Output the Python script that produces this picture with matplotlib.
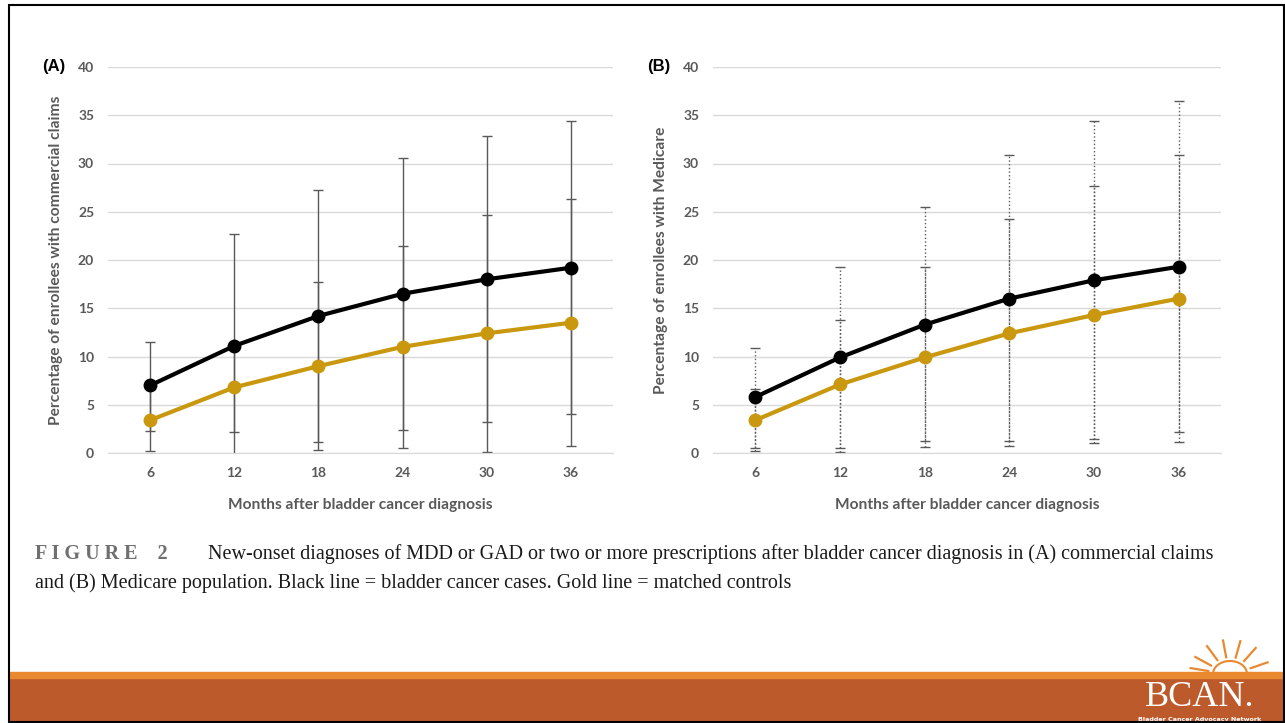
import numpy as np
import matplotlib.pyplot as plt
from matplotlib.patches import Rectangle, Arc

# dados
meses = [6, 12, 18, 24, 30, 36]

# (A) comercial
a_casos = [7.0, 11.1, 14.2, 16.5, 18.0, 19.2]
a_casos_lo = [2.3, -0.5, 1.1, 2.4, 3.2, 4.0]
a_casos_hi = [11.5, 22.7, 27.3, 30.6, 32.8, 34.4]
a_ctrl = [3.4, 6.8, 9.0, 11.0, 12.4, 13.5]
a_ctrl_lo = [0.2, 2.2, 0.3, 0.5, 0.1, 0.7]
a_ctrl_hi = [6.6, 11.4, 17.7, 21.5, 24.7, 26.3]

# (B) Medicare
b_casos = [5.8, 9.9, 13.3, 16.0, 17.9, 19.3]
b_casos_lo = [0.5, 0.5, 1.2, 1.2, 1.5, 2.2]
b_casos_hi = [10.9, 19.3, 25.5, 30.9, 34.4, 36.5]
b_ctrl = [3.4, 7.1, 9.9, 12.4, 14.3, 16.0]
b_ctrl_lo = [0.2, 0.1, 0.6, 0.7, 1.0, 1.1]
b_ctrl_hi = [6.6, 13.8, 19.3, 24.2, 27.7, 30.9]

yticks = [0, 5, 10, 15, 20, 25, 30, 35, 40]

PRETO = '#000000'
OURO = '#C9980F'
CINZA = '#595959'
GRADE = '#D9D9D9'
FONTE = 'Lato'

fig = plt.figure(figsize=(12.85, 7.23), dpi=100)
W, H = 1285, 723


def painel(rect, letra, ylabel, casos, c_lo, c_hi, ctrl, k_lo, k_hi, estilo):
    ax = fig.add_axes(rect)
    for y, lo, hi in [(casos, c_lo, c_hi), (ctrl, k_lo, k_hi)]:
        y = np.array(y)
        yerr = [y - np.array(lo), np.array(hi) - y]
        eb = ax.errorbar(meses, y, yerr=yerr, fmt='none', ecolor=CINZA,
                         elinewidth=1.0, capsize=3.5, capthick=1.0, zorder=2)
        if estilo != '-':
            eb[2][0].set_linestyle(estilo)
    ax.plot(meses, ctrl, color=OURO, lw=3, marker='o', ms=9, zorder=3)
    ax.plot(meses, casos, color=PRETO, lw=3, marker='o', ms=9, zorder=4)
    ax.set_xlim(3, 39)
    ax.set_ylim(0, 40)
    ax.set_xticks(meses)
    ax.set_yticks(yticks)
    ax.grid(axis='y', color=GRADE, lw=1)
    ax.set_axisbelow(True)
    for s in ['top', 'right', 'left']:
        ax.spines[s].set_visible(False)
    ax.spines['bottom'].set_color(GRADE)
    ax.tick_params(length=0, pad=10, labelsize=10, labelcolor=CINZA)
    for t in ax.get_xticklabels() + ax.get_yticklabels():
        t.set_fontweight('bold')
        t.set_family(FONTE)
    ax.set_xlabel('Months after bladder cancer diagnosis', fontsize=11.2,
                  fontweight='bold', color=CINZA, family=FONTE, labelpad=14)
    ax.set_ylabel(ylabel, fontsize=11.2, fontweight='bold', color=CINZA,
                  family=FONTE, labelpad=11)
    ax.text(-0.13, 1.0, letra, transform=ax.transAxes, fontsize=12,
            fontweight='bold', family='Liberation Sans', va='center')
    return ax


painel([108 / W, 1 - 453 / H, 505 / W, 386 / H], '(A)',
       'Percentage of enrollees with commercial claims',
       a_casos, a_casos_lo, a_casos_hi, a_ctrl, a_ctrl_lo, a_ctrl_hi, '-')
painel([713 / W, 1 - 453 / H, 508 / W, 386 / H], '(B)',
       'Percentage of enrollees with Medicare',
       b_casos, b_casos_lo, b_casos_hi, b_ctrl, b_ctrl_lo, b_ctrl_hi, ':')

# legenda da figura
fig.text(35 / W, 1 - 559 / H, 'F I G U R E    2', fontsize=14.5, color='#6F6F6F',
         family='Liberation Serif', va='baseline', fontweight='bold')
fig.text(208 / W, 1 - 559 / H,
         'New-onset diagnoses of MDD or GAD or two or more prescriptions after '
         'bladder cancer diagnosis in (A) commercial claims',
         fontsize=14.5, family='Liberation Serif', va='baseline', color='#1A1A1A')
fig.text(35 / W, 1 - 588 / H,
         'and (B) Medicare population. Black line = bladder cancer cases. '
         'Gold line = matched controls',
         fontsize=14.5, family='Liberation Serif', va='baseline', color='#1A1A1A')

# faixa inferior e moldura
fig.patches.append(Rectangle((10 / W, 0), 1 - 10 / W, 45 / H,
                             transform=fig.transFigure, color='#BC5A2B', zorder=0))
fig.patches.append(Rectangle((10 / W, 45 / H), 1 - 10 / W, 6 / H,
                             transform=fig.transFigure, color='#E8892F', zorder=0))
fig.patches.append(Rectangle((9 / W, 1 / H), 1 - 10 / W, 1 - 6 / H,
                             transform=fig.transFigure, fill=False,
                             edgecolor='black', lw=1.5, zorder=5))

# logotipo BCAN
fig.text(1200 / W, 1 - 706 / H, 'BCAN.', fontsize=26, color='white',
         family='Liberation Serif', ha='center', va='baseline')
fig.text(1200 / W, 1 - 721 / H, 'Bladder Cancer Advocacy Network', fontsize=4.6,
         color='white', family='DejaVu Sans', ha='center', va='baseline',
         fontweight='bold')
logo = fig.add_axes([1180 / W, 1 - 682 / H, 100 / W, 46 / H])
logo.set_xlim(0, 100)
logo.set_ylim(0, 46)
logo.axis('off')
logo.add_patch(Arc((50, 8), 34, 26, theta1=0, theta2=180, color='#E8892F', lw=1.5))
for ang in [20, 50, 75, 100, 125, 150, 170]:
    r = np.deg2rad(ang)
    logo.plot([50 + 22 * np.cos(r), 50 + 40 * np.cos(r)],
              [8 + 17 * np.sin(r), 8 + 34 * np.sin(r)], color='#E8892F', lw=1.6)

fig.savefig('out.png', dpi=100, facecolor='white')
